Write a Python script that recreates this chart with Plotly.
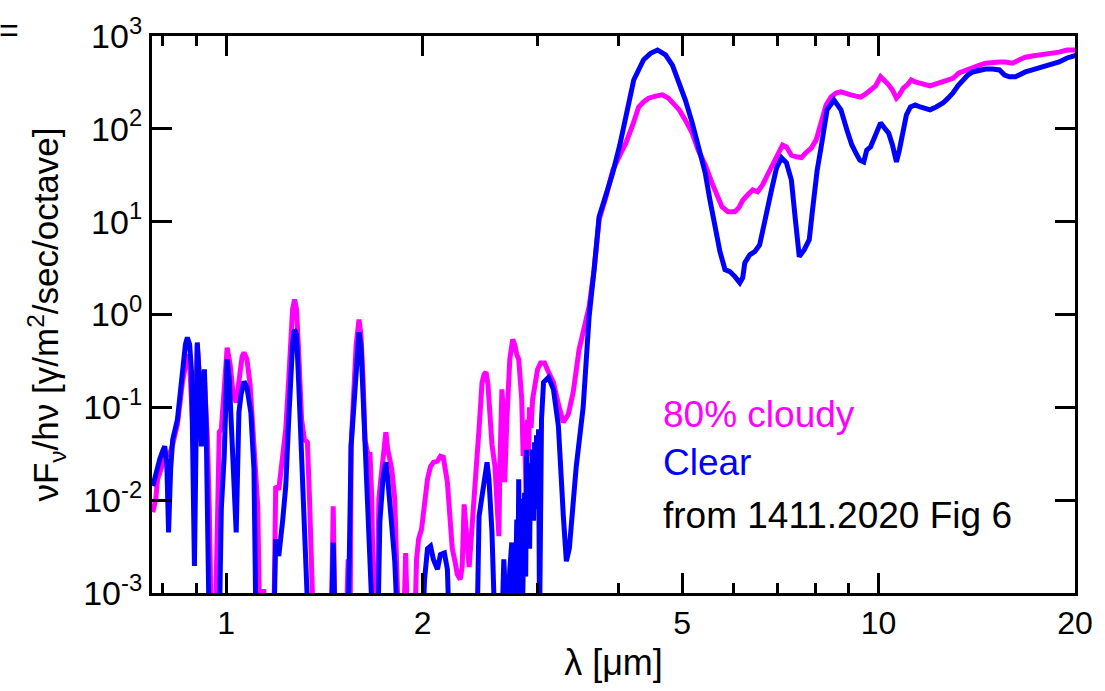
import plotly.graph_objects as go

# ---- data (wavelength in micron, flux in photons/m^2/sec/octave) ----
lam_clear = [0.772, 0.783, 0.791, 0.799, 0.805, 0.811, 0.816, 0.822, 0.828, 0.842,
             0.857, 0.866, 0.872, 0.879, 0.885, 0.888, 0.894, 0.900, 0.903, 0.910,
             0.916, 0.926, 0.932, 0.936, 0.942, 0.976, 0.983, 0.993, 1.0035, 1.011,
             1.021, 1.028, 1.036, 1.046, 1.054, 1.065, 1.076, 1.091, 1.103, 1.111,
             1.183, 1.191, 1.204, 1.221, 1.234, 1.247, 1.255, 1.264, 1.273, 1.282,
             1.291, 1.305, 1.314, 1.323, 1.337, 1.449, 1.459, 1.469, 1.538, 1.554,
             1.571, 1.582, 1.598, 1.609, 1.621, 1.632, 1.649, 1.661, 1.678, 1.708,
             1.720, 1.739, 1.757, 1.769, 1.781, 1.800, 1.813, 1.832, 2.000, 2.014,
             2.035, 2.057, 2.078, 2.108, 2.130, 2.160, 2.183, 2.198, 2.424, 2.441,
             2.485, 2.511, 2.528, 2.555, 2.582, 2.646, 2.664, 2.693, 2.721, 2.740,
             2.768, 2.789, 2.799, 2.808, 2.818, 2.828, 2.838, 2.848, 2.857, 2.867,
             2.878, 2.888, 2.898, 2.908, 2.918, 2.928, 2.938, 2.948, 2.959, 2.969,
             2.980, 2.990, 3.001, 3.012, 3.022, 3.043, 3.065, 3.119, 3.174, 3.230,
             3.287, 3.322, 3.357, 3.440, 3.525, 3.600, 3.664, 3.729, 3.821, 3.914,
             4.012, 4.098, 4.214, 4.363, 4.472, 4.583, 4.714, 4.830, 4.932, 5.056,
             5.180, 5.308, 5.422, 5.515, 5.615, 5.713, 5.815, 5.916, 6.022, 6.127,
             6.191, 6.236, 6.346, 6.458, 6.571, 6.642, 6.734, 6.853, 6.975, 7.098,
             7.223, 7.351, 7.455, 7.558, 7.693, 7.829, 7.911, 8.051, 8.165, 8.337,
             8.543, 8.755, 8.942, 9.099, 9.227, 9.357, 9.489, 9.590, 9.723, 9.895,
             10.07, 10.21, 10.36, 10.50, 10.65, 10.76, 10.91, 11.03, 11.19, 11.38,
             11.58, 11.79, 11.99, 12.25, 12.55, 12.78, 13.00, 13.23, 13.46, 13.70,
             13.94, 14.29, 14.59, 14.95, 15.32, 15.60, 15.87, 16.21, 16.50, 16.79,
             17.20, 17.81, 18.32, 18.91, 19.45, 20.13]
flux_clear = [0.0142, 0.0216, 0.0276, 0.0337, 0.038, 0.0244, 0.0045, 0.0216, 0.045, 0.074,
              0.276, 0.475, 0.566, 0.475, 0.238, 0.0256, 0.00195, 0.074, 0.5, 0.2,
              0.038, 0.256, 0.058, 0.0074, 0.0004, 0.0004, 0.0081, 0.0297, 0.33, 0.2,
              0.038, 0.0103, 0.0045, 0.088, 0.138, 0.19, 0.164, 0.088, 0.0216, 0.0004,
              0.0004, 0.0038, 0.0025, 0.0062, 0.0142, 0.074, 0.2, 0.475, 0.69, 0.61,
              0.2, 0.038, 0.0103, 0.0041, 0.0004, 0.0004, 0.0035, 0.0004, 0.0004, 0.038,
              0.122, 0.33, 0.64, 0.475, 0.156, 0.038, 0.0122, 0.0038, 0.0004, 0.0004,
              0.0058, 0.0168, 0.0256, 0.0168, 0.0103, 0.0038, 0.0022, 0.0004, 0.0004, 0.0014,
              0.003, 0.0032, 0.0023, 0.0018, 0.0026, 0.0027, 0.0018, 0.0004, 0.0004, 0.0067,
              0.0168, 0.0256, 0.0168, 0.0045, 0.0004, 0.0004, 0.0023, 0.0004, 0.0018, 0.0035,
              0.0004, 0.0062, 0.0008, 0.0168, 0.0012, 0.0062, 0.0103, 0.0009, 0.0038, 0.012,
              0.0015, 0.035, 0.004, 0.0131, 0.003, 0.025, 0.0067, 0.035, 0.006, 0.042,
              0.008, 0.05, 0.0216, 0.058, 0.0004, 0.074, 0.186, 0.21, 0.156, 0.063,
              0.0067, 0.0022, 0.003, 0.023, 0.1, 0.95, 3.05, 11.3, 19.5, 33.7,
              67, 134, 336, 555, 650, 707, 625, 485, 336, 204,
              116, 59, 33.7, 17, 8.2, 4.75, 3.05, 2.9, 2.56, 2.2,
              2.5, 3.6, 4.4, 4.75, 5.6, 8.2, 13.4, 22, 38, 48.7,
              43, 28, 10.5, 4.2, 5.0, 6.4, 12.5, 36, 64, 160,
              204, 160, 97, 67, 55, 46, 44, 59, 64, 86,
              116, 102, 90, 67, 44, 59, 97, 141, 172, 181,
              172, 168, 160, 172, 190, 214, 243, 290, 336, 380,
              410, 431, 440, 440, 431, 380, 364, 364, 390, 410,
              431, 464, 500, 525, 580, 625]

lam_cloudy = [0.772, 0.780, 0.785, 0.794, 0.802, 0.811, 0.819, 0.828, 0.842, 0.857,
              0.866, 0.872, 0.879, 0.885, 0.891, 0.897, 0.903, 0.910, 0.916, 0.926,
              0.936, 0.942, 0.949, 0.962, 0.969, 0.976, 0.983, 0.993, 1.0035, 1.014,
              1.025, 1.036, 1.046, 1.058, 1.065, 1.076, 1.088, 1.099, 1.111, 1.118,
              1.126, 1.138, 1.142, 1.145, 1.183, 1.191, 1.204, 1.221, 1.234, 1.247,
              1.255, 1.264, 1.273, 1.282, 1.291, 1.305, 1.318, 1.332, 1.342, 1.351,
              1.361, 1.449, 1.459, 1.469, 1.527, 1.538, 1.549, 1.554, 1.571, 1.582,
              1.598, 1.609, 1.621, 1.632, 1.649, 1.661, 1.672, 1.684, 1.702, 1.714,
              1.726, 1.739, 1.757, 1.769, 1.781, 1.794, 1.813, 1.826, 1.838, 1.871,
              1.884, 1.897, 1.945, 1.958, 1.972, 1.993, 2.014, 2.035, 2.057, 2.078,
              2.108, 2.130, 2.152, 2.167, 2.183, 2.198, 2.221, 2.245, 2.260, 2.284,
              2.300, 2.316, 2.333, 2.357, 2.374, 2.390, 2.407, 2.424, 2.441, 2.467,
              2.485, 2.502, 2.519, 2.537, 2.555, 2.582, 2.600, 2.618, 2.627, 2.646,
              2.664, 2.673, 2.693, 2.721, 2.749, 2.768, 2.789, 2.808, 2.838, 2.852,
              2.867, 2.882, 2.897, 2.907, 2.917, 2.933, 2.949, 2.970, 3.001, 3.033,
              3.076, 3.119, 3.174, 3.230, 3.287, 3.345, 3.403, 3.475, 3.538, 3.600,
              3.664, 3.729, 3.821, 3.914, 4.012, 4.098, 4.199, 4.288, 4.363, 4.440,
              4.552, 4.664, 4.763, 4.846, 4.949, 5.056, 5.180, 5.290, 5.422, 5.556,
              5.653, 5.752, 5.874, 6.022, 6.105, 6.191, 6.302, 6.412, 6.525, 6.642,
              6.757, 6.877, 6.998, 7.126, 7.223, 7.351, 7.481, 7.614, 7.748, 7.885,
              8.023, 8.165, 8.309, 8.455, 8.604, 8.755, 8.909, 9.066, 9.227, 9.389,
              9.555, 9.723, 9.895, 10.07, 10.21, 10.36, 10.50, 10.65, 10.76, 10.91,
              11.07, 11.22, 11.38, 11.58, 11.79, 11.99, 12.25, 12.55, 12.78, 13.00,
              13.28, 13.61, 13.94, 14.29, 14.59, 14.95, 15.32, 15.65, 16.04, 16.44,
              16.79, 17.20, 17.81, 18.32, 18.91, 19.45, 20.13]
flux_cloudy = [0.0074, 0.0103, 0.0168, 0.0216, 0.0263, 0.031, 0.031, 0.040, 0.066, 0.186,
               0.29, 0.37, 0.29, 0.122, 0.045, 0.074, 0.475, 0.2, 0.058, 0.2,
               0.045, 0.0086, 0.0004, 0.0004, 0.0103, 0.054, 0.058, 0.156, 0.44, 0.29,
               0.138, 0.113, 0.2, 0.354, 0.39, 0.33, 0.177, 0.058, 0.0216, 0.0086,
               0.0004, 0.0004, 0.0011, 0.0004, 0.0004, 0.0142, 0.013, 0.0276, 0.058, 0.2,
               0.54, 1.13, 1.45, 1.13, 0.42, 0.074, 0.045, 0.042, 0.0103, 0.0032,
               0.0004, 0.0004, 0.0086, 0.0004, 0.0004, 0.0023, 0.0004, 0.038, 0.156, 0.475,
               0.88, 0.61, 0.2, 0.045, 0.031, 0.033, 0.0103, 0.0004, 0.0004, 0.0103,
               0.0168, 0.0276, 0.054, 0.035, 0.0256, 0.0216, 0.0103, 0.003, 0.0004, 0.0004,
               0.0027, 0.0004, 0.0004, 0.0023, 0.0038, 0.0049, 0.0086, 0.0168, 0.023, 0.0256,
               0.0264, 0.0297, 0.029, 0.0216, 0.0156, 0.0081, 0.003, 0.0021, 0.0016, 0.0014,
               0.0019, 0.009, 0.0038, 0.0019, 0.0038, 0.0067, 0.0131, 0.0297, 0.058, 0.186,
               0.226, 0.24, 0.177, 0.08, 0.04, 0.023, 0.0103, 0.0041, 0.0216, 0.156,
               0.074, 0.0156, 0.074, 0.33, 0.54, 0.475, 0.37, 0.33, 0.122, 0.03,
               0.049, 0.012, 0.074, 0.03, 0.1, 0.06, 0.122, 0.156, 0.256, 0.3,
               0.3, 0.24, 0.186, 0.108, 0.069, 0.084, 0.145, 0.42, 0.78, 1.22,
               3.05, 10.5, 18.6, 36, 52, 70, 110, 172, 195, 214,
               225, 232, 214, 190, 160, 124, 90, 59, 41, 26,
               19.5, 14.5, 12.8, 12.8, 14.1, 17, 19.5, 22, 21, 25,
               32, 41, 55, 67, 64, 52, 50, 49, 56, 62,
               76, 124, 181, 220, 243, 250, 238, 232, 225, 220,
               238, 262, 290, 364, 336, 298, 262, 214, 232, 275,
               298, 336, 320, 310, 298, 290, 305, 320, 336, 350,
               400, 431, 464, 485, 510, 525, 525, 525, 510, 555,
               590, 610, 625, 650, 670, 707, 707]

x_major = [1, 2, 5, 10, 20]
x_major_text = ["1", "2", "5", "10", "20"]
x_minor = [0.8, 0.9, 3, 4, 6, 7, 8, 9]
y_major = [1e-3, 1e-2, 1e-1, 1e0, 1e1, 1e2, 1e3]
y_major_text = ["10<sup>-3</sup>", "10<sup>-2</sup>", "10<sup>-1</sup>", "10<sup>0</sup>",
                "10<sup>1</sup>", "10<sup>2</sup>", "10<sup>3</sup>"]

FONT = "Liberation Sans, Arial, Helvetica, sans-serif"
MAGENTA = "#ff00ff"
BLUE = "#0000ff"

fig = go.Figure()
fig.add_trace(go.Scatter(x=lam_cloudy, y=flux_cloudy, mode="lines",
                         line=dict(color=MAGENTA, width=5), name="80% cloudy"))
fig.add_trace(go.Scatter(x=lam_clear, y=flux_clear, mode="lines",
                         line=dict(color=BLUE, width=5), name="Clear"))

axis_common = dict(showline=True, linecolor="black", linewidth=3, mirror="allticks",
                   ticks="inside", ticklen=20, tickwidth=3, tickcolor="black",
                   showgrid=False, zeroline=False)

fig.update_xaxes(type="log", range=[-0.1137, 1.30103], tickmode="array",
                 tickvals=x_major, ticktext=x_major_text,
                 tickfont=dict(family=FONT, size=32, color="black"),
                 minor=dict(tickmode="array", tickvals=x_minor, ticks="inside",
                            ticklen=10, tickwidth=3, tickcolor="black", showgrid=False),
                 title=dict(text="λ [μm]", font=dict(family=FONT, size=36, color="black"),
                            standoff=10),
                 **axis_common)
fig.update_yaxes(type="log", range=[-3, 3], tickmode="array",
                 tickvals=y_major, ticktext=y_major_text,
                 tickfont=dict(family=FONT, size=34, color="black"),
                 title=dict(text="νF<sub>ν</sub>/hν [γ/m<sup>2</sup>/sec/octave]",
                            font=dict(family=FONT, size=35, color="black"), standoff=14),
                 **axis_common)

ann_font = 37
fig.add_annotation(x=0.551, y=0.3196, xref="paper", yref="paper", text="80% cloudy",
                   showarrow=False, xanchor="left", yanchor="middle",
                   font=dict(family=FONT, size=ann_font, color=MAGENTA))
fig.add_annotation(x=0.551, y=0.235, xref="paper", yref="paper", text="Clear",
                   showarrow=False, xanchor="left", yanchor="middle",
                   font=dict(family=FONT, size=ann_font, color=BLUE))
fig.add_annotation(x=0.551, y=0.14, xref="paper", yref="paper", text="from 1411.2020 Fig 6",
                   showarrow=False, xanchor="left", yanchor="middle",
                   font=dict(family=FONT, size=ann_font, color="black"))
fig.add_annotation(x=-0.168, y=1.011, xref="paper", yref="paper", text="=",
                   showarrow=False, xanchor="left", yanchor="middle",
                   font=dict(family=FONT, size=34, color="black"))

fig.update_layout(width=1105, height=691, showlegend=False,
                  margin=dict(l=152, r=20, t=36, b=98),
                  plot_bgcolor="white", paper_bgcolor="white")

fig.write_html("out.html")
